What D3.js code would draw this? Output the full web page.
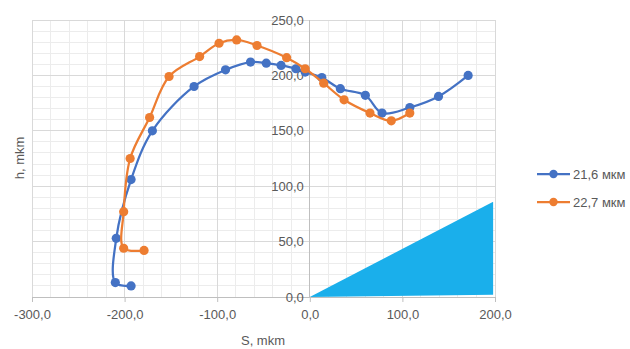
<!DOCTYPE html>
<html><head><meta charset="utf-8">
<script src="https://cdn.jsdelivr.net/npm/d3@7"></script>
<style>
html,body{margin:0;padding:0;background:#fff;}
text{font-family:"Liberation Sans",Arial,sans-serif;fill:#595959;}
</style></head>
<body><svg id="c" width="630" height="349"></svg>
<script>
// Series 1: 21,6 мкм
const s1S = [-193, -210, -209, -193, -170, -125, -91, -64, -47, -31, -15, -5, 13, 33, 60, 78, 108, 139, 171];
const s1H = [10, 13, 53, 106, 150, 190, 205, 212, 211, 209, 206, 203, 198, 188, 182, 166, 171, 181, 200];
// Series 2: 22,7 мкм
const s2S = [-179, -201, -201, -194, -173, -152, -119, -98, -79, -57, -25, -5, 15, 37, 65, 88, 108];
const s2H = [42, 44, 77, 125, 162, 199, 217, 229, 232, 227, 216, 206, 193, 178, 166, 159, 166];
// Blue triangle area
const triS = [0, 198, 198];
const triH = [0, 86, 2];
const seriesNames = ["21,6 мкм", "22,7 мкм"];
const seriesColors = ["#4472C4", "#ED7D31"];
const xTicks = [-300, -200, -100, 0, 100, 200];
const yTicks = [0, 50, 100, 150, 200, 250];
const xTitle = "S, mkm";
const yTitle = "h, mkm";

const svg = d3.select("#c");
const x = d3.scaleLinear().domain([-300, 200]).range([32, 495]);
const y = d3.scaleLinear().domain([0, 250]).range([297, 20]);
const fmt = v => v.toFixed(1).replace(".", ",");
const FS = 13;

// minor grid
const g = svg.append("g");
g.selectAll("line.mx").data(d3.range(-300, 201, 20)).join("line")
  .attr("x1", d => x(d)).attr("x2", d => x(d)).attr("y1", y(0)).attr("y2", y(250))
  .attr("stroke", "#ececec").attr("stroke-width", 1).attr("shape-rendering", "crispEdges");
g.selectAll("line.my").data(d3.range(0, 251, 10)).join("line")
  .attr("x1", x(-300)).attr("x2", x(200)).attr("y1", d => y(d)).attr("y2", d => y(d))
  .attr("stroke", "#ececec").attr("stroke-width", 1).attr("shape-rendering", "crispEdges");
// major grid
g.append("g").selectAll("line").data(xTicks).join("line")
  .attr("x1", d => x(d)).attr("x2", d => x(d)).attr("y1", y(0)).attr("y2", y(250))
  .attr("stroke", "#d9d9d9").attr("shape-rendering", "crispEdges");
g.append("g").selectAll("line").data(yTicks).join("line")
  .attr("x1", x(-300)).attr("x2", x(200)).attr("y1", d => y(d)).attr("y2", d => y(d))
  .attr("stroke", "#d9d9d9").attr("shape-rendering", "crispEdges");

// triangle
const tri = triS.map((s, i) => [x(s), y(triH[i])]);
svg.append("path").attr("d", d3.line()(tri) + "Z").attr("fill", "#1AAFEB");

// axes
const xAxis = d3.axisBottom(x).tickValues(xTicks).tickFormat(fmt).tickSize(5).tickPadding(8);
const xa = svg.append("g").attr("transform", `translate(0,${y(0)})`).call(xAxis);
const yAxis = d3.axisLeft(y).tickValues(yTicks).tickFormat(fmt).tickSize(4).tickPadding(2);
const ya = svg.append("g").attr("transform", `translate(${x(0)},0)`).call(yAxis);
[xa, ya].forEach(a => {
  a.selectAll("path.domain").attr("stroke", "#bfbfbf");
  a.selectAll(".tick line").attr("stroke", "#bfbfbf");
  a.selectAll("text").attr("font-size", FS).attr("fill", "#595959")
   .attr("font-family", "Liberation Sans, Arial, sans-serif");
});
ya.selectAll(".tick line").remove();
ya.selectAll("path.domain").remove();
svg.append("line").attr("x1", x(0)).attr("x2", x(0)).attr("y1", y(0)).attr("y2", y(250))
  .attr("stroke", "#bfbfbf").attr("shape-rendering", "crispEdges");

// series
const line = d3.line().curve(d3.curveCatmullRom.alpha(0.5));
[[s1S, s1H], [s2S, s2H]].forEach(([S, H], i) => {
  const pts = S.map((s, j) => [x(s), y(H[j])]);
  svg.append("path").attr("d", line(pts)).attr("fill", "none")
    .attr("stroke", seriesColors[i]).attr("stroke-width", 2.25);
  svg.append("g").selectAll("circle").data(pts).join("circle")
    .attr("cx", d => d[0]).attr("cy", d => d[1]).attr("r", 4.6)
    .attr("fill", seriesColors[i]);
});

// titles
svg.append("text").attr("x", 263).attr("y", 345).attr("text-anchor", "middle")
  .attr("font-size", FS).text(xTitle);
svg.append("text").attr("transform", "translate(24,158) rotate(-90)").attr("text-anchor", "middle")
  .attr("font-size", FS).text(yTitle);

// legend
const lg = svg.append("g");
seriesNames.forEach((n, i) => {
  const ly = 174 + i * 28;
  lg.append("line").attr("x1", 537).attr("x2", 570).attr("y1", ly).attr("y2", ly)
    .attr("stroke", seriesColors[i]).attr("stroke-width", 2.25);
  lg.append("circle").attr("cx", 553.5).attr("cy", ly).attr("r", 4.2).attr("fill", seriesColors[i]);
  lg.append("text").attr("x", 573).attr("y", ly).attr("dy", "0.35em").attr("font-size", FS).text(n);
});
</script></body></html>
